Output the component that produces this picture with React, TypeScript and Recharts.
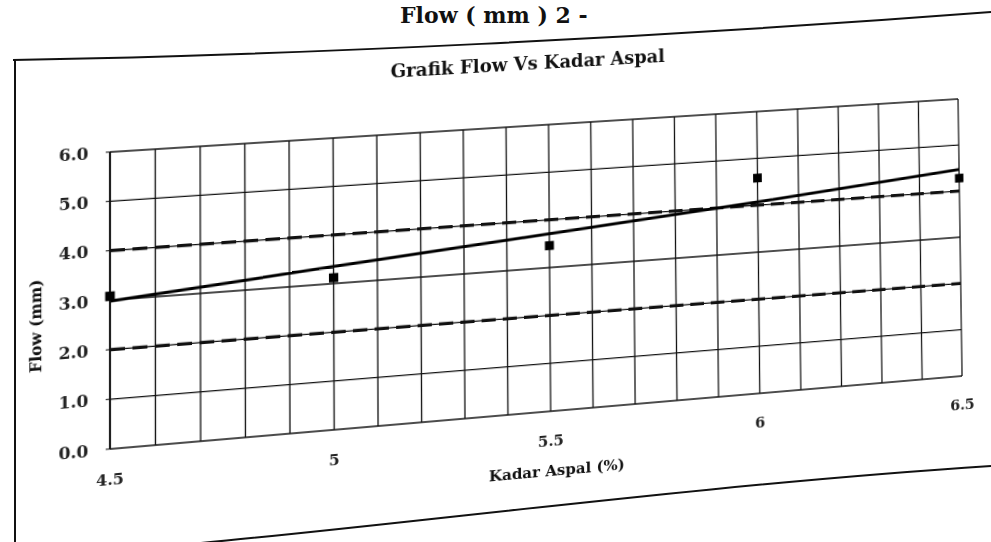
import React from "react";
import {
  ComposedChart,
  CartesianGrid,
  XAxis,
  YAxis,
  Line,
  Scatter,
} from "recharts";

// Kadar aspal (%) tested and the measured Marshall flow (mm)
const kadarAspal = [4.5, 5, 5.5, 6, 6.5];
const flowTest = [3.08, 3.12, 3.46, 4.58, 4.28];
// Trend line through the test results
const flowTrend = [2.98, 3.35, 3.71, 4.07, 4.47];
// Specification limits
const flowMin = [2, 2, 2, 2, 2];
const flowMax = [4, 4, 4, 4, 4];

const xLabelTicks = [4.5, 5, 5.5, 6, 6.5];
const xGridTicks = [
  4.5, 4.6, 4.7, 4.8, 4.9, 5, 5.1, 5.2, 5.3, 5.4, 5.5, 5.6, 5.7, 5.8, 5.9, 6,
  6.1, 6.2, 6.3, 6.4, 6.5,
];
const yTicks = [0, 1, 2, 3, 4, 5, 6];

const data = kadarAspal.map((x, i) => ({
  x,
  flow: flowTest[i],
  trend: flowTrend[i],
  min: flowMin[i],
  max: flowMax[i],
}));

const FONT = '"DejaVu Serif", "Liberation Serif", serif';

// Plot rectangle inside the chart svg and where its corners sit on the printed page
const PLOT = { left: 110, top: 125, right: 960, bottom: 415 };
const PAGE_CORNERS = [
  [110, 152],
  [958, 99],
  [962, 376],
  [110, 449],
];

// Projective transform taking four source points onto four target points
function homography(src: number[][], dst: number[][]): number[] {
  const A: number[][] = [];
  const b: number[] = [];
  for (let i = 0; i < 4; i++) {
    const [x, y] = src[i];
    const [u, v] = dst[i];
    A.push([x, y, 1, 0, 0, 0, -x * u, -y * u]);
    b.push(u);
    A.push([0, 0, 0, x, y, 1, -x * v, -y * v]);
    b.push(v);
  }
  const n = 8;
  for (let c = 0; c < n; c++) {
    let p = c;
    for (let r = c + 1; r < n; r++)
      if (Math.abs(A[r][c]) > Math.abs(A[p][c])) p = r;
    [A[c], A[p]] = [A[p], A[c]];
    [b[c], b[p]] = [b[p], b[c]];
    for (let r = 0; r < n; r++) {
      if (r === c) continue;
      const f = A[r][c] / A[c][c];
      for (let k = c; k < n; k++) A[r][k] -= f * A[c][k];
      b[r] -= f * b[c];
    }
  }
  return b.map((v, i) => v / A[i][i]);
}

const h = homography(
  [
    [PLOT.left, PLOT.top],
    [PLOT.right, PLOT.top],
    [PLOT.right, PLOT.bottom],
    [PLOT.left, PLOT.bottom],
  ],
  PAGE_CORNERS
);
const pageTransform = `matrix3d(${h[0]},${h[3]},0,${h[6]},${h[1]},${h[4]},0,${h[7]},0,0,1,0,${h[2]},${h[5]},0,1)`;

const renderXTick = (props: any) => {
  const { x, y, payload } = props;
  if (!xLabelTicks.includes(payload.value)) return <g />;
  return (
    <text
      x={x}
      y={y + 30}
      textAnchor="middle"
      dominantBaseline="central"
      fontFamily={FONT}
      fontWeight="bold"
      fontSize={15}
      fill="#222"
    >
      {String(payload.value)}
    </text>
  );
};

const SquareDot = (props: any) => {
  const { cx, cy } = props;
  return <rect x={cx - 4.5} y={cy - 4.5} width={9} height={9} fill="#000" />;
};

export default function App() {
  return (
    <div
      style={{
        position: "absolute",
        left: 0,
        top: 0,
        width: 991,
        height: 542,
        overflow: "hidden",
        background: "#fff",
      }}
    >
      {/* chart area border and page heading */}
      <svg
        width={991}
        height={542}
        style={{ position: "absolute", left: 0, top: 0 }}
      >
        <text
          x={400}
          y={23}
          fontFamily={FONT}
          fontWeight="bold"
          fontSize={22}
          fill="#111"
        >
          Flow ( mm ) 2 -
        </text>
        <path
          d="M13,60 C300,55 650,38 991,12"
          fill="none"
          stroke="#111"
          strokeWidth={2}
        />
        <path d="M15,60 L15,542" fill="none" stroke="#111" strokeWidth={2} />
        <path
          d="M190,544 C400,525 700,485 991,466"
          fill="none"
          stroke="#111"
          strokeWidth={2}
        />
      </svg>

      <div
        style={{
          position: "absolute",
          left: 0,
          top: 0,
          width: 991,
          height: 560,
          transformOrigin: "0 0",
          transform: pageTransform,
        }}
      >
        <div
          style={{
            position: "absolute",
            left: 316,
            width: 400,
            top: 51,
            textAlign: "center",
            fontFamily: FONT,
            fontWeight: "bold",
            fontSize: 18,
            color: "#111",
          }}
        >
          Grafik Flow Vs Kadar Aspal
        </div>
        <ComposedChart
          width={991}
          height={560}
          data={data}
          margin={{ top: 125, right: 31, left: 30, bottom: 105 }}
        >
          <CartesianGrid stroke="#111" strokeWidth={1.3} />
          <XAxis
            dataKey="x"
            type="number"
            domain={[4.5, 6.5]}
            ticks={xGridTicks}
            interval={0}
            tick={renderXTick}
            tickLine={false}
            axisLine={false}
            tickSize={0}
            tickMargin={0}
            height={40}
            label={{
              content: (p: any) => {
                const vb = p.viewBox || { x: 110, y: 415, width: 850 };
                return (
                  <text
                    x={vb.x + vb.width / 2 + 6}
                    y={vb.y + 60}
                    textAnchor="middle"
                    dominantBaseline="central"
                    fontFamily={FONT}
                    fontWeight="bold"
                    fontSize={15}
                    fill="#111"
                  >
                    Kadar Aspal (%)
                  </text>
                );
              },
            }}
          />
          <YAxis
            type="number"
            domain={[0, 6]}
            ticks={yTicks}
            interval={0}
            width={80}
            tickFormatter={(v: number) => v.toFixed(1)}
            tick={{
              fontFamily: FONT,
              fontWeight: "bold",
              fontSize: 16,
              fill: "#222",
            }}
            tickSize={4}
            tickMargin={16}
            tickLine={{ stroke: "#111" }}
            axisLine={{ stroke: "#111", strokeWidth: 1.6 }}
            label={{
              content: (p: any) => {
                const vb = p.viewBox || { x: 30, y: 125, height: 290 };
                const cy = vb.y + vb.height / 2 + 20;
                return (
                  <text
                    transform={`translate(41,${cy}) rotate(-90)`}
                    textAnchor="middle"
                    dominantBaseline="central"
                    fontFamily={FONT}
                    fontWeight="bold"
                    fontSize={15}
                    fill="#111"
                  >
                    Flow (mm)
                  </text>
                );
              },
            }}
          />
          <Line
            dataKey="max"
            type="linear"
            stroke="#111"
            strokeWidth={3.2}
            strokeDasharray="14 7"
            dot={false}
            isAnimationActive={false}
          />
          <Line
            dataKey="min"
            type="linear"
            stroke="#111"
            strokeWidth={3.2}
            strokeDasharray="14 7"
            dot={false}
            isAnimationActive={false}
          />
          <Line
            dataKey="trend"
            type="linear"
            stroke="#000"
            strokeWidth={3}
            dot={false}
            isAnimationActive={false}
          />
          <Scatter
            dataKey="flow"
            fill="#000"
            shape={<SquareDot />}
            isAnimationActive={false}
          />
        </ComposedChart>
      </div>
    </div>
  );
}
